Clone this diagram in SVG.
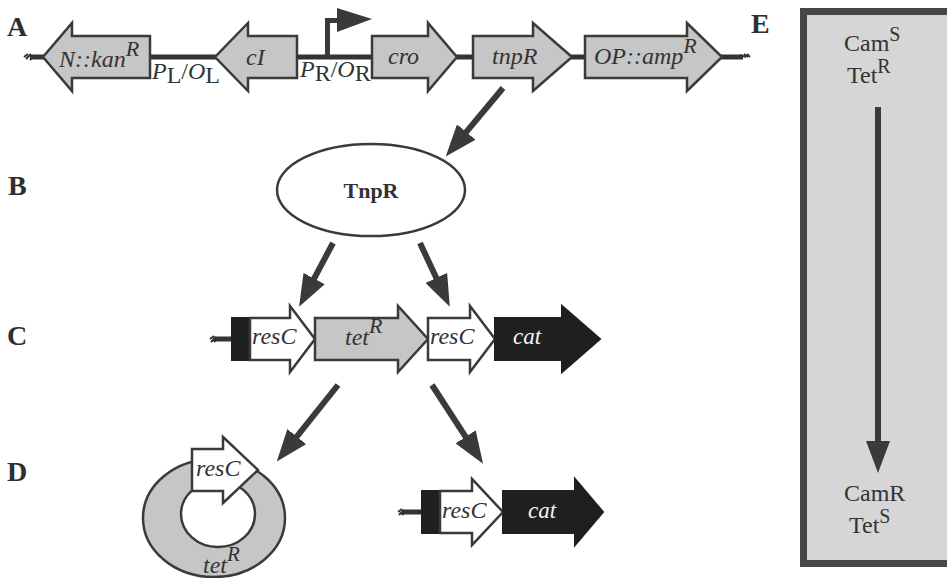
<svg xmlns="http://www.w3.org/2000/svg" width="947" height="578" viewBox="0 0 947 578">
<style>
.lbl{font-family:"Liberation Serif","DejaVu Serif",serif;font-weight:bold;font-size:28px;fill:#2e2e2e}
.gi{font-family:"Liberation Serif","DejaVu Serif",serif;font-style:italic;font-size:24px;fill:#333}
.gw{font-family:"Liberation Serif","DejaVu Serif",serif;font-style:italic;font-size:23px;fill:#f4f4f4}
.rm{font-family:"Liberation Serif","DejaVu Serif",serif;font-size:24px;fill:#333}
.gray{fill:#c6c6c6;stroke:#3a3a3a;stroke-width:2.5;stroke-linejoin:miter}
.white{fill:#fff;stroke:#3a3a3a;stroke-width:2.5}
.black{fill:#1f1f1f;stroke:#1f1f1f;stroke-width:2}
.bb{stroke:#333;stroke-width:5;fill:none}
.sq{stroke:#333;stroke-width:2;fill:none}
.conn{stroke:#3a3a3a;stroke-width:6;fill:none;marker-end:url(#ah)}
</style>
<defs>
<marker id="ah" markerUnits="userSpaceOnUse" markerWidth="32" markerHeight="24" viewBox="0 0 32 24" refX="6" refY="12" orient="auto">
<path d="M0,0 L32,12 L0,24 z" fill="#3a3a3a"/>
</marker>
</defs>
<rect width="947" height="578" fill="#fff"/>

<g id="labels">
<text class="lbl" x="7" y="36">A</text>
<text class="lbl" x="8" y="195">B</text>
<text class="lbl" x="7" y="345">C</text>
<text class="lbl" x="7" y="481">D</text>
<text class="lbl" x="751" y="33">E</text>
</g>

<g id="rowA">
<line class="bb" x1="30" y1="57" x2="743" y2="57"/>
<path class="sq" d="M24,57 l4,-3 M26,59 l5,-5 M30,60 l4,-4"/>
<path class="sq" d="M740,55 l6,2 M744,54 l4,3 M747,54 l3,3"/>
<g id="kan"><polygon class="gray" points="150,36 72,36 72,23 43,57 72,91 72,78 150,78"/>
<text class="gi" x="59" y="67">N::kan<tspan dy="-11" font-size="22">R</tspan></text></g>
<g id="cI"><polygon class="gray" points="297,36 248,36 248,23 215,57 248,91 248,78 297,78"/>
<text class="gi" x="246" y="65" font-size="25">cI</text></g>
<g id="PLOL"><text class="gi" x="152" y="79" font-size="22">P<tspan font-style="normal" dy="4">L</tspan><tspan font-style="normal" dy="-4">/</tspan>O<tspan font-style="normal" dy="4">L</tspan></text></g>
<g id="PROR"><text class="gi" x="300" y="77" font-size="22">P<tspan font-style="normal" dy="4">R</tspan><tspan font-style="normal" dy="-4">/</tspan>O<tspan font-style="normal" dy="4">R</tspan></text></g>
<g id="promoter"><path d="M327.5,57 V20.5 H340" stroke="#3a3a3a" stroke-width="5" fill="none"/>
<polygon points="337,8 372,19 337,32" fill="#3a3a3a"/></g>
<g id="cro"><polygon class="gray" points="372,36 428,36 428,23 457,57 428,91 428,78 372,78"/>
<text class="gi" x="388" y="64" font-size="25">cro</text></g>
<g id="tnpR"><polygon class="gray" points="473,36 533,36 533,23 572,57 533,91 533,78 473,78"/>
<text class="gi" x="492" y="64">tnpR</text></g>
<g id="amp"><polygon class="gray" points="585,36 687,36 687,23 722,57 687,91 687,78 585,78"/>
<text class="gi" x="594" y="64">OP::amp<tspan dy="-11" font-size="22">R</tspan></text></g>
</g>

<g id="TnpR">
<ellipse cx="371" cy="190" rx="94" ry="46" fill="#fff" stroke="#3a3a3a" stroke-width="2.5"/>
<text x="371" y="198" text-anchor="middle" font-family="Liberation Serif,DejaVu Serif,serif" font-weight="bold" font-size="22" fill="#333">TnpR</text>
</g>

<g id="rowC">
<line class="bb" x1="214" y1="339" x2="232" y2="339"/>
<path class="sq" d="M210,339 l4,-3 M211,342 l5,-5 M214,342 l4,-4"/>
<rect class="black" x="232" y="318" width="18" height="42"/>
<g id="resC1"><polygon class="white" points="250,318 290,318 290,306 315,339 290,372 290,360 250,360"/>
<text class="gi" x="252" y="344" font-size="22">resC</text></g>
<g id="tetR"><polygon class="gray" points="315,318 398,318 398,306 428,339 398,372 398,360 315,360"/>
<text class="gi" x="345" y="345">tet<tspan dy="-12" font-size="22">R</tspan></text></g>
<g id="resC2"><polygon class="white" points="428,318 470,318 470,306 495,339 470,372 470,360 428,360"/>
<text class="gi" x="430" y="344" font-size="22">resC</text></g>
<g id="cat1"><polygon class="black" points="495,318 562,318 562,306 600,339 562,372 562,360 495,360"/>
<text class="gw" x="513" y="344">cat</text></g>
</g>

<g id="circle">
<ellipse cx="214" cy="518" rx="71" ry="59" fill="#c6c6c6" stroke="#3a3a3a" stroke-width="2.5"/>
<ellipse cx="218" cy="514" rx="37" ry="33" fill="#fff" stroke="#3a3a3a" stroke-width="2.5"/>
<polygon class="white" points="192,449 223,449 223,437 258,470 223,503 223,491 192,491"/>
<text class="gi" x="196" y="476" font-size="22">resC</text>
<text class="gi" x="203" y="573" font-size="23">tet<tspan dy="-12" font-size="21">R</tspan></text>
</g>

<g id="rowD">
<line class="bb" x1="402" y1="512" x2="422" y2="512"/>
<path class="sq" d="M398,512 l4,-3 M399,515 l5,-5 M402,515 l4,-4"/>
<rect class="black" x="422" y="491" width="18" height="42"/>
<g id="resC3"><polygon class="white" points="440,491 472,491 472,479 503,512 472,545 472,533 440,533"/>
<text class="gi" x="442" y="518" font-size="22">resC</text></g>
<g id="cat2"><polygon class="black" points="503,491 575,491 575,479 603,512 575,545 575,533 503,533"/>
<text class="gw" x="528" y="518">cat</text></g>
</g>

<g id="E">
<rect x="803.5" y="11.5" width="200" height="552" fill="#d6d6d6" stroke="#474747" stroke-width="7"/>
<text class="rm" x="844" y="51">Cam<tspan dy="-10" font-size="20">S</tspan></text>
<text class="rm" x="847" y="83">Tet<tspan dy="-10" font-size="20">R</tspan></text>
<text class="rm" x="844" y="501">CamR</text>
<text class="rm" x="849" y="533">Tet<tspan dy="-10" font-size="20">S</tspan></text>
</g>

<g id="connectors">
<line class="conn" x1="503" y1="88" x2="462.4" y2="136.6"/>
<line class="conn" x1="333" y1="243" x2="311.3" y2="283.8"/>
<line class="conn" x1="420" y1="243" x2="438.8" y2="283.3"/>
<line class="conn" x1="338" y1="385" x2="293" y2="441.3"/>
<line class="conn" x1="432" y1="385" x2="468.9" y2="441.9"/>
<line class="conn" x1="878" y1="107" x2="878" y2="447"/>
</g>
</svg>
